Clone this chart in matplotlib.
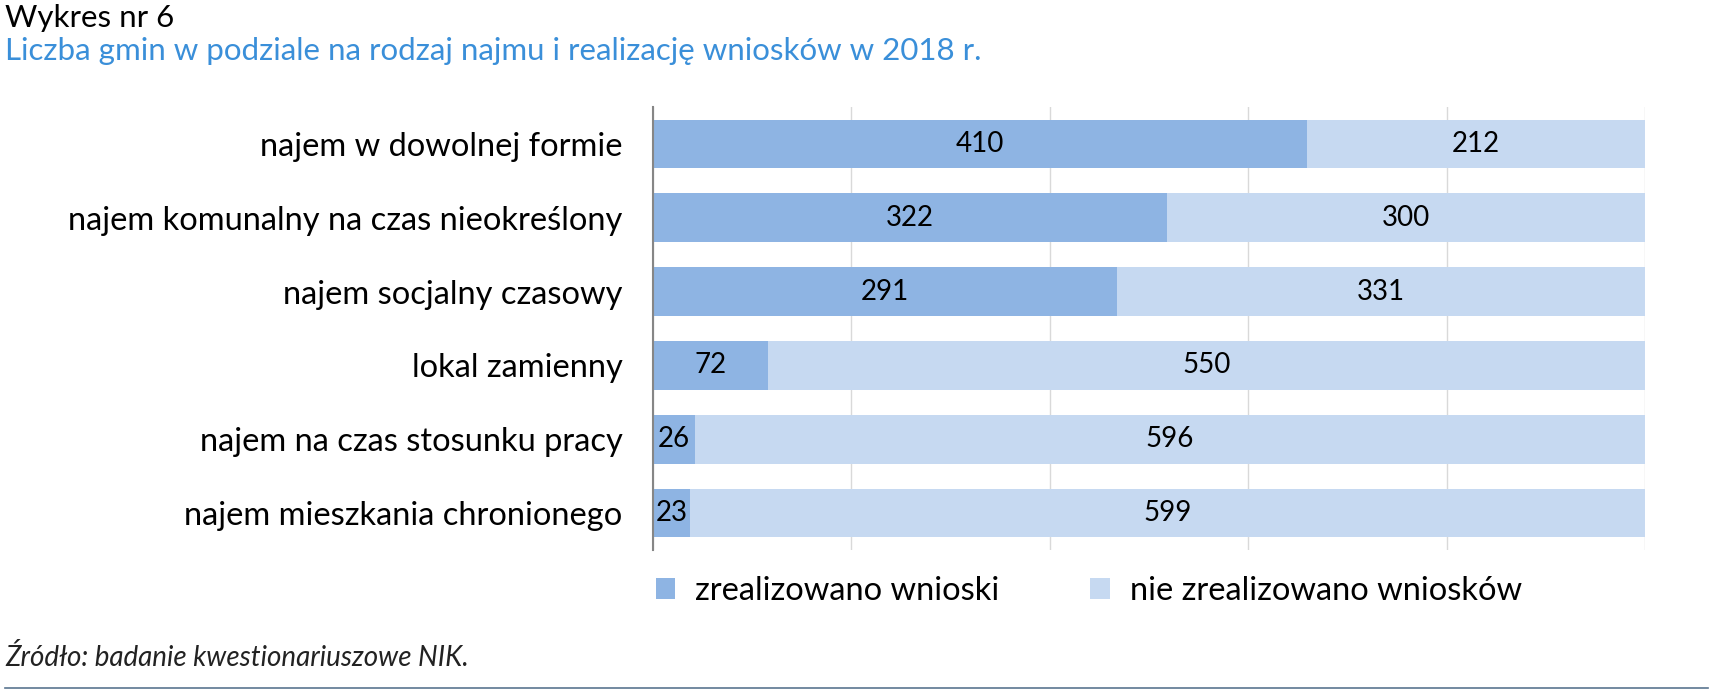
import matplotlib.pyplot as plt
import numpy as np

# dane
kategorie = ['najem w dowolnej formie',
             'najem komunalny na czas nieokreślony',
             'najem socjalny czasowy',
             'lokal zamienny',
             'najem na czas stosunku pracy',
             'najem mieszkania chronionego']
zrealizowano = [410, 322, 291, 72, 26, 23]
nie_zrealizowano = [212, 300, 331, 550, 596, 599]
seria_nazwy = ['zrealizowano wnioski', 'nie zrealizowano wniosków']

plt.rcParams['font.family'] = ['Lato', 'DejaVu Sans']

fig = plt.figure(figsize=(17.25, 6.9), dpi=100)
ax = fig.add_axes([0.3786, 0.203, 0.575, 0.642])

y = np.arange(len(kategorie))
b1 = ax.barh(y, zrealizowano, height=0.66, color='#8EB4E3', label=seria_nazwy[0], zorder=2)
b2 = ax.barh(y, nie_zrealizowano, left=zrealizowano, height=0.66, color='#C6D9F1',
             label=seria_nazwy[1], zorder=2)

ax.bar_label(b1, label_type='center', fontsize=20, color='black')
ax.bar_label(b2, label_type='center', fontsize=20, color='black')

total = zrealizowano[0] + nie_zrealizowano[0]
ax.set_xlim(0, total)
ax.set_ylim(len(kategorie) - 0.5, -0.5)
ax.set_xticks(np.linspace(0, total, 6))
ax.set_xticklabels([])
ax.tick_params(axis='x', length=0)
ax.tick_params(axis='y', length=0, pad=22, labelsize=23.5)
ax.set_yticks(y)
ax.set_yticklabels(kategorie)
ax.grid(axis='x', color='#D9D9D9', linewidth=1, zorder=0)

for s in ['top', 'right', 'bottom']:
    ax.spines[s].set_visible(False)
ax.spines['left'].set_color('#868686')
ax.spines['left'].set_linewidth(1.5)

fig.legend(handles=[b1, b2], loc='center left', bbox_to_anchor=(0.363, 0.143),
           ncol=2, frameon=False, fontsize=23.5, handlelength=0.6, handleheight=0.6,
           handletextpad=0.6, columnspacing=2.8)

fig.text(0.003, 0.974, 'Wykres nr 6', fontsize=22.5, color='black', va='center')
fig.text(0.003, 0.926, 'Liczba gmin w podziale na rodzaj najmu i realizację wniosków w 2018 r.',
         fontsize=22.5, color='#3A8FD9', va='center')
fig.text(0.003, 0.047, 'Źródło: badanie kwestionariuszowe NIK.', fontsize=20,
         style='italic', color='#222222', va='center')
fig.add_artist(plt.Line2D([0.003, 0.99], [0.003, 0.003], color='#5A7590', linewidth=1.2))

plt.savefig('out.png', dpi=100)
